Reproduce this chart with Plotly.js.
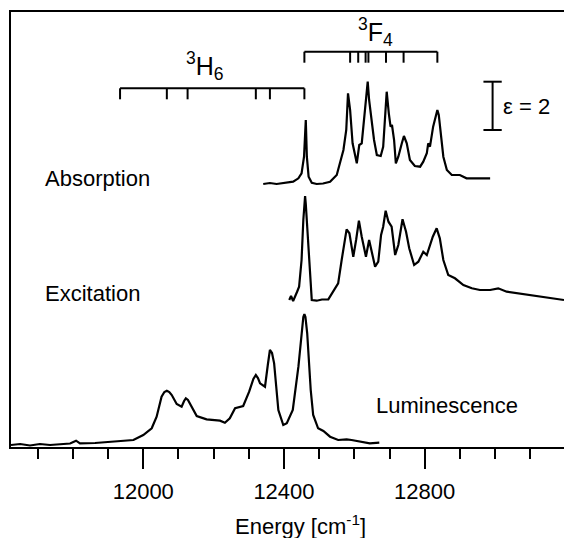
<!DOCTYPE html>
<html>
<head>
<meta charset="utf-8">
<script src="https://cdn.plot.ly/plotly-3.0.1.min.js"></script>
<style>html,body{margin:0;padding:0;background:#fff;}#chart{width:564px;height:538px;}</style>
</head>
<body>
<div id="chart"></div>
<script>
// ---- Data (energies in cm^-1, intensities in arbitrary units above each baseline) ----
const lumEnergy = [11624,11650,11678,11706,11735,11763,11792,11809,11820,11863,11905,11948,11972,12000,12024,12038,12052,12060,12067,12074,12081,12095,12109,12116,12121,12127,12135,12152,12180,12218,12232,12246,12261,12284,12301,12313,12320,12326,12332,12346,12354,12360,12366,12372,12384,12398,12408,12425,12441,12450,12455,12458,12461,12466,12476,12483,12497,12512,12531,12554,12578,12592,12616,12644,12671];
const lumIntensity = [0,1,-0.5,1,0,0.5,1.5,4.3,1.7,2,3.3,4,5,10,16.7,28.3,48.3,53,54.3,53,50,41,38.3,44,46.7,45,40,29,25.7,24.3,22.3,26.7,36.7,39,53.3,66,70,67,61.7,58.3,80,95,92,81.7,35,20,21.7,35,78.3,115,128,131,128,111.7,55,30,16.7,14,8.3,5,5.7,5,3.3,1.7,2.3];

const excEnergy = [12415,12420,12426,12431,12437,12443,12450,12455,12458,12460,12462,12466,12472,12479,12493,12508,12526,12540,12554,12564,12578,12586,12597,12605,12613,12621,12633,12642,12649,12659,12668,12676,12682,12689,12697,12706,12716,12725,12737,12747,12756,12770,12782,12796,12806,12823,12834,12843,12853,12867,12886,12910,12934,12957,12986,13009,13033,13062,13099,13137,13170,13196];
const excIntensity = [0,4,-1,4,8,13.3,40,80,98,104,96,73.3,30,0,-0.7,0.5,0.7,8.3,16.7,40,70.7,66.7,43.3,60,79.3,63.3,43.3,60,50,33.3,38.3,65,73.3,89.3,78.3,73.3,45,55,80.7,68.3,51.7,35,38.3,48.3,45,63.3,71.7,61.7,40,25,21.7,15,11.7,10,10,11.7,8.3,6.7,5,2.7,1,0];

const absEnergy = [12341,12360,12379,12403,12426,12441,12450,12457,12462,12465,12470,12479,12493,12511,12531,12550,12559,12569,12577,12582,12588,12595,12607,12614,12621,12627,12632,12638,12642,12649,12656,12664,12675,12682,12687,12692,12698,12703,12707,12713,12718,12725,12735,12741,12749,12758,12772,12787,12796,12806,12810,12815,12824,12832,12836,12840,12845,12853,12863,12877,12900,12919,12948,12986];
const absIntensity = [0,1,0,1,2.3,5.7,10.7,27.3,64,27.3,7.3,1.3,0,0.5,2.3,9,22.3,34,54,90.7,74,40.7,20.7,39,40.7,64,87.3,102.3,84,64,44,29,28,37.3,67.3,92.3,70.7,57.3,59,44,20.7,27.3,40.7,48,40.7,24,18,17.3,22.3,30.7,40.7,37.3,57.3,70,74,69,50.7,27.3,14,9,9,5.7,5.7,5.7];

// Crystal-field levels (cm^-1)
const h6Levels = [11934,12067,12126,12320,12360,12458];
const f4Levels = [12458,12588,12611,12632,12640,12690,12740,12836];

const majorTicks = [12000,12400,12800];
const traceNames = ["Absorption","Excitation","Luminescence"];
const scaleLabel = "\u03b5 = 2";
const epsScale = 2;

// ---- Layout constants (positions, not data) ----
const W = 564, H = 538, ML = 11, MR = 0, MT = 12, MB = 91;
const YMAX = 435;
const offsets = {abs: 263, exc: 147, lum: 2};
const auPerEps = 24.15;
const px = x => (x - ML) / (W - ML - MR);
const py = y => (H - MB - y) / (H - MT - MB);

function shift(arr, off){ return arr.map(v => v + off); }

const INK = '#000';
const lineStyle = {color:INK, width:2.2};
const traces = [
  {x:absEnergy, y:shift(absIntensity, offsets.abs), mode:'lines', line:lineStyle, name:traceNames[0], hoverinfo:'skip'},
  {x:excEnergy, y:shift(excIntensity, offsets.exc), mode:'lines', line:lineStyle, name:traceNames[1], hoverinfo:'skip'},
  {x:lumEnergy, y:shift(lumIntensity, offsets.lum), mode:'lines', line:lineStyle, name:traceNames[2], hoverinfo:'skip'}
];

const shapes = [];
function bracket(levels, yTop, tickLen){
  const lo = Math.min(...levels), hi = Math.max(...levels);
  shapes.push({type:'line', xref:'x', yref:'y', x0:lo, x1:hi, y0:yTop, y1:yTop, line:{color:INK, width:2}});
  levels.forEach(e => shapes.push({type:'line', xref:'x', yref:'y', x0:e, x1:e, y0:yTop, y1:yTop - tickLen, line:{color:INK, width:2}}));
}
bracket(h6Levels, 358.7, 11);
bracket(f4Levels, 395.3, 11);

// epsilon scale bar
const barX = 12993, barHalfCap = 26, barY0 = 317;
const barY1 = barY0 + epsScale * auPerEps;
shapes.push({type:'line', xref:'x', yref:'y', x0:barX, x1:barX, y0:barY0, y1:barY1, line:{color:INK, width:2}});
shapes.push({type:'line', xref:'x', yref:'y', x0:barX-barHalfCap, x1:barX+barHalfCap, y0:barY0, y1:barY0, line:{color:INK, width:2}});
shapes.push({type:'line', xref:'x', yref:'y', x0:barX-barHalfCap, x1:barX+barHalfCap, y0:barY1, y1:barY1, line:{color:INK, width:2}});

const fontFam = 'Liberation Sans, Arial, Helvetica, sans-serif';
const ann = (text, x, y, size, xa) => ({text, xref:'paper', yref:'paper', x:px(x), y:py(y), xanchor:xa||'left', yanchor:'middle', showarrow:false, font:{family:fontFam, size:size||22, color:INK}});
const annotations = [
  ann(traceNames[0], 43, 178),
  ann(traceNames[1], 43, 293.5),
  ann(traceNames[2], 374, 405),
  ann(scaleLabel, 501, 106),
  ann('<sup>3</sup>H<sub>6</sub>', 184, 66, 25),
  ann('<sup>3</sup>F<sub>4</sub>', 356, 32, 25),
  ann('Energy [cm<sup>-1</sup>]', 300, 525, 22, 'center')
];

const layout = {
  width: W, height: H,
  margin: {l:ML, r:MR, t:MT, b:MB, pad:0},
  paper_bgcolor:'#fff', plot_bgcolor:'#fff',
  showlegend:false,
  font:{family:fontFam, size:22, color:INK},
  xaxis:{
    range:[11624, 13196],
    showline:true, linecolor:INK, linewidth:2, mirror:true,
    showgrid:false, zeroline:false,
    tickmode:'array', tickvals:majorTicks, ticktext:majorTicks.map(String),
    ticks:'outside', ticklen:20, tickwidth:2, tickcolor:INK,
    ticklabelstandoff:4,
    minor:{dtick:100, tick0:11600, ticks:'outside', ticklen:10, tickwidth:2, tickcolor:INK, showgrid:false},
    tickfont:{family:fontFam, size:22, color:INK}
  },
  yaxis:{
    range:[0, YMAX],
    showline:true, linecolor:INK, linewidth:2, mirror:false,
    showgrid:false, zeroline:false, showticklabels:false, ticks:''
  },
  shapes, annotations
};

Plotly.newPlot('chart', traces, layout, {staticPlot:true, displayModeBar:false});
</script>
</body>
</html>
